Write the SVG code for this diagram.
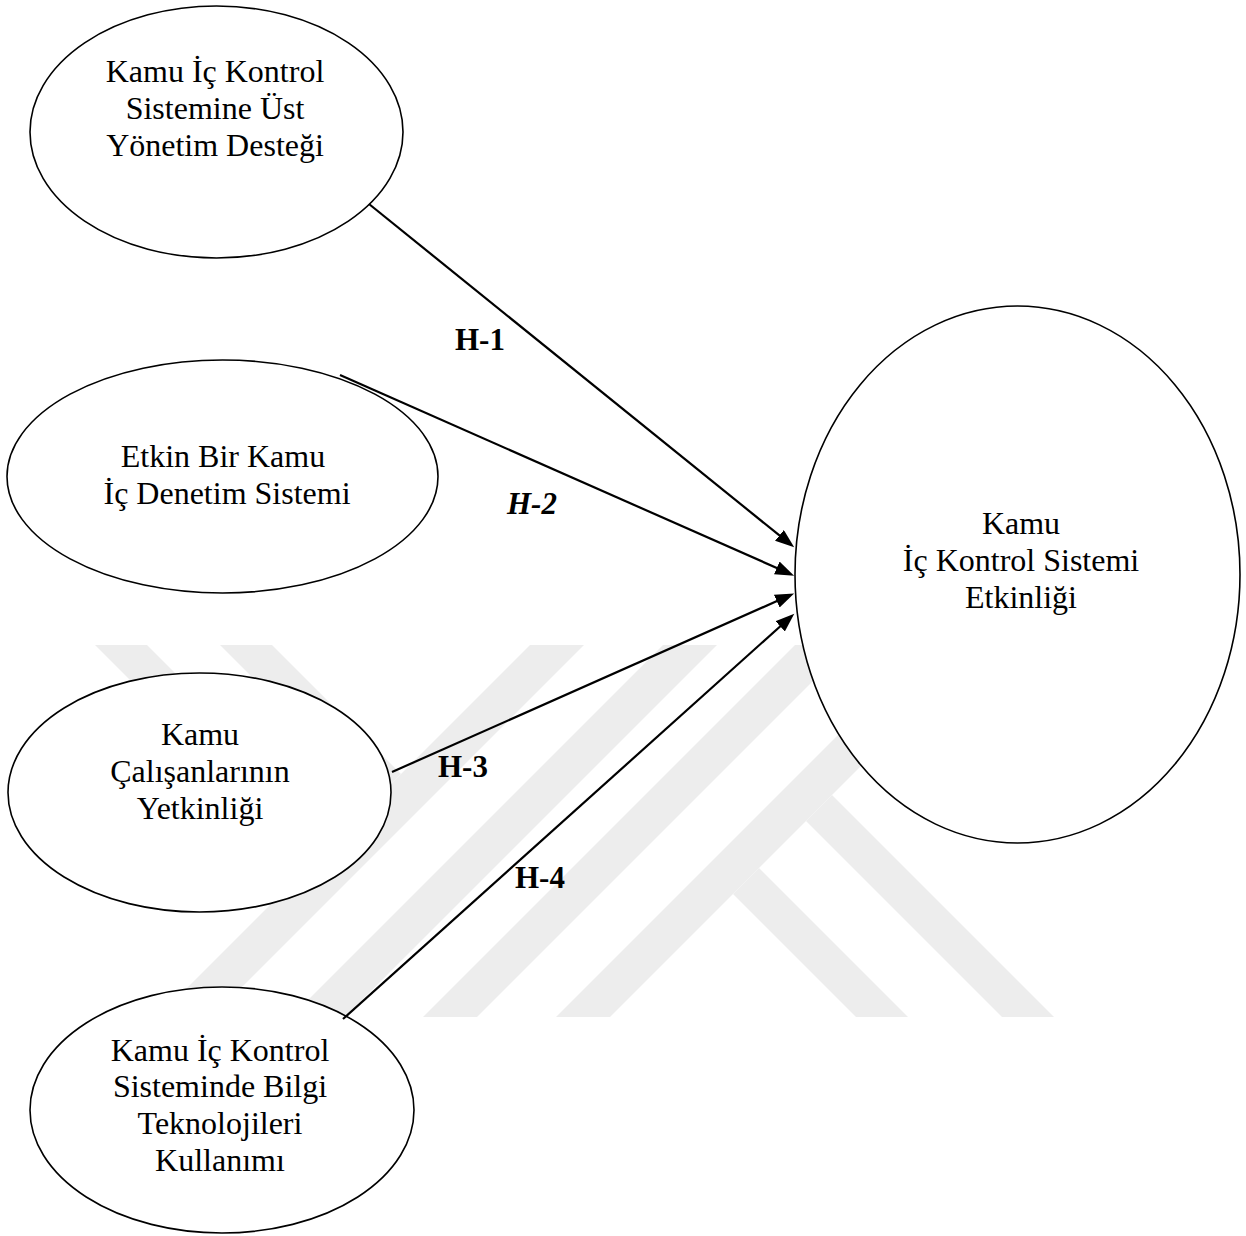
<svg xmlns="http://www.w3.org/2000/svg" width="1246" height="1236" viewBox="0 0 1246 1236">
<style>
.node ellipse{fill:#fff;stroke:#000;stroke-width:1.6}
.node text{font-family:"Liberation Serif","Times New Roman",serif;font-size:32px;fill:#000;text-anchor:middle}
.conn line{stroke:#000;stroke-width:2.2;marker-end:url(#arr)}
.lbl{font-family:"Liberation Serif","Times New Roman",serif;font-size:31px;font-weight:bold;fill:#000}
.wm polygon{fill:#ededed}
</style>
<defs>
<marker id="arr" markerUnits="userSpaceOnUse" markerWidth="20" markerHeight="15" refX="10" refY="7" orient="auto">
<path d="M0,0 L19,7 L0,14 z" fill="#000"/>
</marker>
<clipPath id="wmclip"><rect x="0" y="645" width="1246" height="372"/></clipPath>
</defs>
<rect width="1246" height="1236" fill="#fff"/>
<g class="wm" clip-path="url(#wmclip)">
<polygon points="95,645 147,645 338.5,836.5 312.5,862.5"/>
<polygon points="220,645 272,645 401,774 375,800"/>
<polygon points="530,645 584,645 212,1017 158,1017"/>
<polygon points="663,645 717,645 345,1017 291,1017"/>
<polygon points="795,645 849,645 477,1017 423,1017"/>
<polygon points="928,645 982,645 610,1017 556,1017"/>
<polygon points="733,894 759,868 908,1017 856,1017"/>
<polygon points="806,821 832,795 1054,1017 1002,1017"/>
</g>
<g id="n1" class="node">
<ellipse cx="216.5" cy="132" rx="186.5" ry="126"/>
<text><tspan x="215" y="82">Kamu İç Kontrol</tspan><tspan x="215" y="119">Sistemine Üst</tspan><tspan x="215" y="156">Yönetim Desteği</tspan></text>
</g>
<g id="n2" class="node">
<ellipse cx="222.5" cy="476.5" rx="215.5" ry="116.5"/>
<text><tspan x="223" y="467">Etkin Bir Kamu</tspan><tspan x="227" y="504">İç Denetim Sistemi</tspan></text>
</g>
<g id="n3" class="node">
<ellipse cx="199.5" cy="792.5" rx="191.5" ry="119.5"/>
<text><tspan x="200" y="745">Kamu</tspan><tspan x="200" y="782">Çalışanlarının</tspan><tspan x="200" y="819">Yetkinliği</tspan></text>
</g>
<g id="n4" class="node">
<ellipse cx="222" cy="1110" rx="192" ry="123"/>
<text><tspan x="220" y="1061">Kamu İç Kontrol</tspan><tspan x="220" y="1097">Sisteminde Bilgi</tspan><tspan x="220" y="1134">Teknolojileri</tspan><tspan x="220" y="1171">Kullanımı</tspan></text>
</g>
<g id="n5" class="node">
<ellipse cx="1017.5" cy="574.5" rx="222.5" ry="268.5"/>
<text><tspan x="1021" y="534">Kamu</tspan><tspan x="1021" y="571">İç Kontrol Sistemi</tspan><tspan x="1021" y="608">Etkinliği</tspan></text>
</g>
<g id="connectors" class="conn">
<line x1="369" y1="204" x2="787.2" y2="541.7"/>
<line x1="340" y1="375" x2="785.9" y2="572"/>
<line x1="392" y1="772" x2="785.9" y2="597.1"/>
<line x1="343" y1="1019" x2="787.6" y2="619.7"/>
<text class="lbl" x="455" y="350">H-1</text>
<text class="lbl" x="507" y="514" font-style="italic" font-size="33">H-2</text>
<text class="lbl" x="438" y="777">H-3</text>
<text class="lbl" x="515" y="888">H-4</text>
</g>
</svg>
